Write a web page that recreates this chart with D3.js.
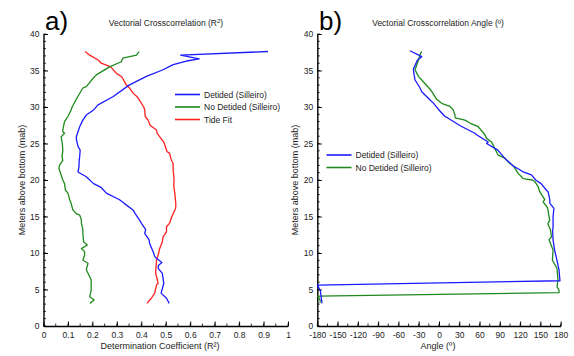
<!DOCTYPE html>
<html>
<head>
<meta charset="utf-8">
<script src="https://cdn.jsdelivr.net/npm/d3@7"></script>
<style>
  body { margin: 0; background: #fff; }
  svg { font-family: "Liberation Sans", Arial, sans-serif; }
</style>
</head>
<body>
<div id="chart"></div>
<script>
// [mab, R2] pairs
const detidedR2 = [
  [37.6, 0.918], [37.1, 0.561], [36.6, 0.637], [36.3, 0.585], [35.8, 0.53], [35.1, 0.489],
  [34.2, 0.421], [33.0, 0.35], [31.4, 0.284], [30.3, 0.223], [29.6, 0.205], [28.9, 0.175],
  [28.2, 0.161], [27.3, 0.148], [26.5, 0.14], [25.9, 0.134], [25.5, 0.135], [24.6, 0.141],
  [24.1, 0.15], [23.2, 0.148], [22.7, 0.146], [21.8, 0.145], [21.1, 0.141], [20.45, 0.175],
  [19.5, 0.205], [19.0, 0.235], [18.2, 0.257], [17.3, 0.311], [16.8, 0.33], [15.9, 0.366],
  [15.4, 0.375], [14.5, 0.393], [14.1, 0.40], [13.2, 0.418], [12.7, 0.414], [11.8, 0.432],
  [11.3, 0.434], [10.2, 0.448], [9.5, 0.455], [9.27, 0.462], [8.7, 0.484], [8.3, 0.47],
  [7.9, 0.469], [7.2, 0.486], [5.85, 0.492], [4.5, 0.481], [3.8, 0.503], [3.1, 0.514]
];
const noDetidedR2 = [
  [37.6, 0.391], [37.1, 0.38], [36.7, 0.325], [36.2, 0.318], [35.5, 0.27], [34.4, 0.216],
  [33.9, 0.202], [32.8, 0.175], [32.6, 0.161], [31.3, 0.138], [30.0, 0.117], [29.6, 0.113],
  [28.7, 0.10], [28.2, 0.09], [28.0, 0.086], [26.85, 0.079], [26.6, 0.079], [26.4, 0.086],
  [25.9, 0.072], [25.0, 0.077], [24.1, 0.079], [23.2, 0.076], [22.7, 0.079], [22.05, 0.066],
  [21.6, 0.063], [21.1, 0.068], [20.0, 0.079], [19.5, 0.086], [18.6, 0.09], [18.2, 0.10],
  [17.3, 0.107], [16.8, 0.113], [15.9, 0.12], [15.4, 0.134], [15.2, 0.148], [14.5, 0.155],
  [14.1, 0.155], [13.2, 0.161], [12.7, 0.161], [11.55, 0.164], [11.1, 0.179], [10.6, 0.155],
  [10.2, 0.168], [9.7, 0.168], [9.0, 0.161], [8.6, 0.182], [7.7, 0.175], [6.75, 0.189],
  [6.3, 0.195], [4.9, 0.195], [4.0, 0.189], [3.56, 0.207], [3.1, 0.19]
];
const tideFitR2 = [
  [37.6, 0.17], [37.1, 0.189], [36.4, 0.225], [36.0, 0.236], [35.5, 0.275], [34.6, 0.298],
  [34.15, 0.32], [33.0, 0.339], [32.6, 0.352], [31.9, 0.366], [31.4, 0.383], [31.0, 0.391],
  [30.0, 0.41], [29.6, 0.414], [28.7, 0.416], [28.2, 0.428], [27.5, 0.436], [26.85, 0.462],
  [26.4, 0.465], [25.2, 0.492], [23.9, 0.505], [23.65, 0.516], [22.7, 0.523], [22.3, 0.53],
  [21.4, 0.53], [20.45, 0.533], [20.0, 0.534], [19.1, 0.533], [18.2, 0.537], [16.8, 0.541],
  [16.3, 0.541], [16.1, 0.54], [15.0, 0.525], [14.1, 0.516], [13.6, 0.503], [12.9, 0.503],
  [12.2, 0.489], [11.55, 0.486], [10.4, 0.473], [10.2, 0.473], [9.0, 0.462], [8.8, 0.462],
  [7.7, 0.459], [7.2, 0.459], [6.75, 0.462], [5.85, 0.469], [5.6, 0.462], [4.5, 0.455],
  [3.8, 0.441], [3.1, 0.423]
];

// [mab, angle] pairs
const detidedAngle = [
  [37.7, -43], [36.9, -25.5], [36.4, -32], [35.2, -37.9], [34.5, -37], [33.7, -35.4],
  [32.6, -28], [32.1, -25.5], [31.2, -15.8], [30.5, -8], [29.7, -1], [28.7, 8.8],
  [28.5, 13], [27.4, 32], [26.4, 53], [26.2, 55.6], [25.2, 72.7], [25.0, 70.4],
  [24.1, 87], [23.0, 97], [21.9, 110], [21.4, 119.5], [21.1, 124.4], [20.7, 136.8],
  [20.0, 143], [19.5, 151], [18.6, 159], [18.4, 161.3], [17.3, 163.8], [16.8, 164],
  [16.1, 170], [15.0, 168.7], [13.4, 168.7], [13.2, 168], [11.8, 168.7], [10.4, 171],
  [9.0, 174.5], [7.7, 177.5], [6.6, 178.5], [6.2, 179], [5.6, -179.8], [4.9, -175.6],
  [3.1, -173]
];
const noDetidedAngle = [
  [37.6, -25.5], [37.2, -28], [36.4, -30.5], [35.1, -35.4], [34.2, -30.5], [33.7, -25.5],
  [32.3, -12], [31.05, -3.4], [30.5, 4], [30.1, 16], [29.6, 21], [28.9, 23.5],
  [28.5, 24], [28.2, 38.4], [27.8, 45.7], [27.3, 58], [26.2, 67.9], [25.7, 70.4],
  [25.2, 77.7], [24.3, 82.6], [23.4, 87.5], [23.0, 97.4], [22.7, 99.9], [21.8, 111],
  [20.9, 117], [20.7, 119.5], [20.2, 124.4], [20.0, 138], [19.8, 141.6], [19.1, 146.5],
  [18.4, 149], [17.3, 156.4], [17.0, 154], [16.3, 159.8], [15.9, 161.3], [15.0, 162.7],
  [14.5, 163.8], [14.0, 161], [13.4, 163.8], [13.2, 164.8], [12.2, 166.3], [11.8, 162.7],
  [10.4, 168.7], [9.0, 167.7], [7.9, 174.5], [6.3, 176], [5.4, 174.5], [4.9, 177.5],
  [4.56, 177.5], [4.1, -179.5], [3.5, -175.6], [3.2, -176]
];

const r2Ticks = [0, 0.1, 0.2, 0.3, 0.4, 0.5, 0.6, 0.7, 0.8, 0.9, 1];
const angleTicks = [-180, -150, -120, -90, -60, -30, 0, 30, 60, 90, 120, 150, 180];
const mabTicks = [0, 5, 10, 15, 20, 25, 30, 35, 40];

const BLUE = '#1a1aff';
const GREEN = '#1e8a1e';
const RED = '#ff2020';

const svg = d3.select('#chart').append('svg')
  .attr('width', 574)
  .attr('height', 356);

const plotTop = 34, plotBottom = 326;
const yScale = d3.scaleLinear().domain([0, 40]).range([plotBottom, plotTop]);

function drawPanel(left, right, xDomain, xTicks, xMinorStep, fmt) {
  const xScale = d3.scaleLinear().domain(xDomain).range([left, right]);
  const g = svg.append('g');

  // minor ticks
  const minorX = d3.range(xDomain[0], xDomain[1] + xMinorStep / 2, xMinorStep);
  g.selectAll('.mx').data(minorX).enter().append('line')
    .attr('x1', d => xScale(d)).attr('x2', d => xScale(d))
    .attr('y1', plotBottom).attr('y2', plotBottom - 2.5)
    .attr('stroke', '#000').attr('stroke-width', 0.8);
  g.selectAll('.my').data(d3.range(0, 41, 1)).enter().append('line')
    .attr('x1', left).attr('x2', left + 2.5)
    .attr('y1', d => yScale(d)).attr('y2', d => yScale(d))
    .attr('stroke', '#000').attr('stroke-width', 0.8);

  const xAxis = d3.axisBottom(xScale).tickValues(xTicks).tickSizeInner(-4.5).tickSizeOuter(0)
    .tickPadding(6).tickFormat(fmt);
  g.append('g').attr('transform', `translate(0, ${plotBottom})`).call(xAxis);

  const yAxis = d3.axisLeft(yScale).tickValues(mabTicks).tickSizeInner(-4.5).tickSizeOuter(0)
    .tickPadding(4);
  g.append('g').attr('transform', `translate(${left}, 0)`).call(yAxis);

  g.selectAll('.domain').attr('stroke', '#000').attr('stroke-width', 1.4);
  g.selectAll('.tick line').attr('stroke', '#000').attr('stroke-width', 1);
  g.selectAll('.tick text').attr('font-size', 8.5).attr('fill', '#222')
    .attr('font-family', '"Liberation Sans", Arial, sans-serif');

  g.append('text')
    .attr('x', -(plotTop + plotBottom) / 2)
    .attr('y', left - 19)
    .attr('transform', 'rotate(-90)')
    .attr('text-anchor', 'middle')
    .attr('font-size', 9)
    .attr('fill', '#222')
    .text('Meters above bottom (mab)');

  return xScale;
}

function drawSeries(xScale, data, color) {
  const line = d3.line().x(d => xScale(d[1])).y(d => yScale(d[0]));
  svg.append('path')
    .datum(data)
    .attr('d', line)
    .attr('fill', 'none')
    .attr('stroke', color)
    .attr('stroke-width', 1.3)
    .attr('stroke-linejoin', 'round');
}

function drawLegend(x, y, items) {
  items.forEach((it, i) => {
    svg.append('line')
      .attr('x1', x).attr('x2', x + 25)
      .attr('y1', y + i * 12.5).attr('y2', y + i * 12.5)
      .attr('stroke', it[1]).attr('stroke-width', 1.6);
    svg.append('text')
      .attr('x', x + 29).attr('y', y + i * 12.5 + 3)
      .attr('font-size', 8.5).attr('fill', '#222')
      .text(it[0]);
  });
}

// panel a
const xA = drawPanel(43.5, 288, [0, 1], r2Ticks, 0.05, d => d);
drawSeries(xA, tideFitR2, RED);
drawSeries(xA, noDetidedR2, GREEN);
drawSeries(xA, detidedR2, BLUE);
drawLegend(175, 94.5, [['Detided (Silleiro)', BLUE], ['No Detided (Silleiro)', GREEN], ['Tide Fit', RED]]);

svg.append('text').attr('x', 45).attr('y', 30).attr('font-size', 26).attr('fill', '#000').text('a)');
const titleA = svg.append('text').attr('x', 166).attr('y', 26).attr('text-anchor', 'middle')
  .attr('font-size', 8.5).attr('fill', '#222');
titleA.append('tspan').text('Vectorial Crosscorrelation (R');
titleA.append('tspan').attr('font-size', 6).attr('dy', -3.5).text('2');
titleA.append('tspan').attr('dy', 3.5).text(')');
svg.append('text').attr('x', 160).attr('y', 349).attr('text-anchor', 'middle')
  .attr('font-size', 9).attr('fill', '#222').text('Determination Coefficient (R²)');

// panel b
const xB = drawPanel(317.3, 560.7, [-180, 180], angleTicks, 15, d => d);
drawSeries(xB, noDetidedAngle, GREEN);
drawSeries(xB, detidedAngle, BLUE);
drawLegend(326.5, 155, [['Detided (Silleiro)', BLUE], ['No Detided (Silleiro)', GREEN]]);

svg.append('text').attr('x', 319).attr('y', 30).attr('font-size', 26).attr('fill', '#000').text('b)');
svg.append('text').attr('x', 438).attr('y', 26).attr('text-anchor', 'middle')
  .attr('font-size', 8.5).attr('fill', '#222').text('Vectorial Crosscorrelation Angle (º)');
svg.append('text').attr('x', 438).attr('y', 349).attr('text-anchor', 'middle')
  .attr('font-size', 9).attr('fill', '#222').text('Angle (º)');
</script>
</body>
</html>
